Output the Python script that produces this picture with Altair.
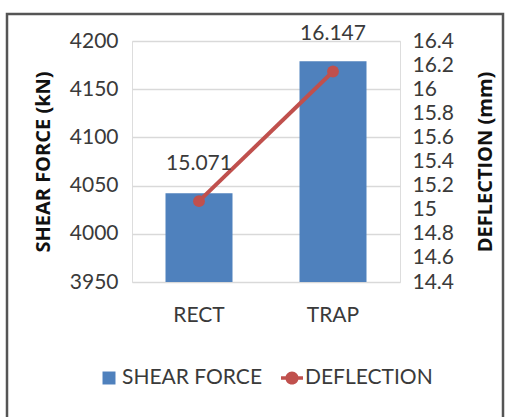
import altair as alt
import pandas as pd

categories = ["RECT", "TRAP"]
shear_force = [4042, 4179]
deflection = [15.071, 16.147]
deflection_labels = ["15.071", "16.147"]
legend_labels = ["SHEAR FORCE", "DEFLECTION"]
left_ticks = [3950, 4000, 4050, 4100, 4150, 4200]
right_ticks = [14.4, 14.6, 14.8, 15.0, 15.2, 15.4, 15.6, 15.8, 16.0, 16.2, 16.4]

BLUE = "#4F81BD"
RED = "#C0504D"
TXT = "#3a3a3a"
FONT = "Lato"
TFONT = "Open Sans"

df = pd.DataFrame({
    "cat": categories,
    "shear": shear_force,
    "defl": deflection,
    "lab": deflection_labels,
})

xenc = alt.X("cat:N", sort=categories,
             scale=alt.Scale(paddingInner=0.5, paddingOuter=0.25),
             axis=alt.Axis(title=None, labelAngle=0, labelFont=FONT, labelFontSize=21,
                           labelColor=TXT, ticks=False, domain=False, labelPadding=22))

bars = alt.Chart(df).mark_bar(color=BLUE).encode(
    x=xenc,
    y=alt.Y("shear:Q", scale=alt.Scale(domain=[3950, 4200], nice=False, zero=False),
            axis=alt.Axis(title="SHEAR FORCE (kN)", values=left_ticks, grid=True, format="d",
                          gridColor="#d9d9d9", gridWidth=1.5, ticks=False, domain=False,
                          labelFont=FONT, labelFontSize=21, labelColor=TXT, labelPadding=14,
                          titleFont=TFONT, titleFontSize=20, titleFontWeight="bold",
                          titleColor="#111111", titlePadding=16)),
    y2=alt.datum(3950),
)

yr = alt.Y("defl:Q", scale=alt.Scale(domain=[14.4, 16.4], nice=False, zero=False),
           axis=alt.Axis(title="DEFLECTION (mm)", orient="right", values=right_ticks, grid=False,
                         ticks=False, domain=False, labelOverlap=False, labelFlush=False,
                         labelExpr="format(datum.value, '.1~f')",
                         labelFont=FONT, labelFontSize=21, labelColor=TXT, labelPadding=12,
                         titleFont=TFONT, titleFontSize=20, titleFontWeight="bold",
                         titleColor="#111111", titleAngle=270, titlePadding=42))

xs = alt.X("cat:N", sort=categories)
line = alt.Chart(df).mark_line(color=RED, strokeWidth=4).encode(x=xs, y=yr)
pts = alt.Chart(df).mark_point(color=RED, filled=True, opacity=1, size=140).encode(x=xs, y=yr)
labels = alt.Chart(df).mark_text(font=FONT, fontSize=21, color=TXT, dy=-37).encode(
    x=xs, y=yr, text="lab:N")

square = "M-0.59,-0.59H0.59V0.59H-0.59Z"
linecirc = ("M-1,-0.17H1V0.17H-1Z "
            "M0.6,0A0.6,0.6 0 1,1 -0.6,0A0.6,0.6 0 1,1 0.6,0Z")

leg_df = pd.DataFrame({"series": legend_labels})
legend_layer = alt.Chart(leg_df).mark_point(filled=True, opacity=0).encode(
    x=alt.value(0), y=alt.value(0),
    color=alt.Color("series:N", scale=alt.Scale(domain=legend_labels, range=[BLUE, RED]),
                    legend=alt.Legend(title=None, orient="none", legendX=-34, legendY=326,
                                      direction="horizontal", labelFont=FONT, labelFontSize=21,
                                      labelColor=TXT, symbolSize=484, symbolOpacity=1,
                                      symbolStrokeWidth=0, labelOffset=2, columnPadding=18)),
    shape=alt.Shape("series:N", scale=alt.Scale(domain=legend_labels, range=[square, linecirc]),
                    legend=None),
)

frame = alt.Chart(pd.DataFrame({"a": [0]})).mark_rect(
    fill=None, stroke="#555555", strokeWidth=2.5).encode(
    x=alt.value(-125), x2=alt.value(371), y=alt.value(-27), y2=alt.value(390))

right = alt.layer(line, pts, labels)

chart = alt.layer(frame, bars, right, legend_layer).resolve_scale(
    y="independent", color="independent", shape="independent"
).properties(
    width=268, height=241,
    autosize=alt.AutoSizeParams(type="none"),
    padding={"left": 132, "top": 41, "right": 105, "bottom": 135},
).configure_view(stroke=None).configure(background="white")

chart.save("out.html", embed_options={"renderer": "svg", "actions": False})
